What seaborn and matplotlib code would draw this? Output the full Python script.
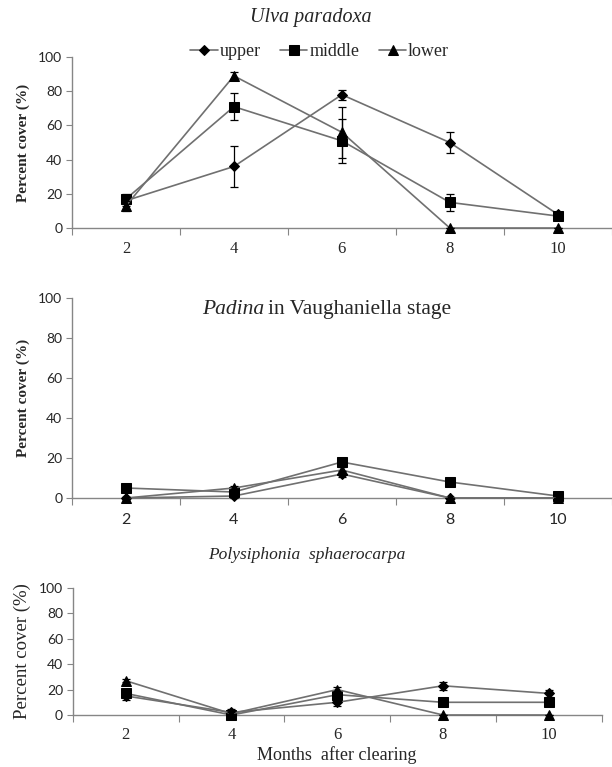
import pandas as pd
import numpy as np
import matplotlib.pyplot as plt
import seaborn as sns

# data
months = ['2', '4', '6', '8', '10']
zones = ['upper', 'middle', 'lower']

ulva_upper = [16, 36, 78, 50, 8]
ulva_middle = [17, 71, 51, 15, 7]
ulva_lower = [13, 89, 56, 0, 0]
ulva_upper_err = [3, 12, 3, 6, 1]
ulva_middle_err = [3, 8, 13, 5, 1.5]
ulva_lower_err = [3, 2, 15, 0, 0]

padina_upper = [0, 1, 12, 0, 0]
padina_middle = [5, 3, 18, 8, 1]
padina_lower = [0, 5, 14, 0, 0]
padina_upper_err = [0.5, 1, 1.5, 0, 0]
padina_middle_err = [1.5, 1, 1.5, 2, 1]
padina_lower_err = [0.5, 1, 1.5, 0, 0]

poly_upper = [15, 2, 10, 23, 17]
poly_middle = [17, 0, 16, 10, 10]
poly_lower = [27, 1, 20, 0, 0]
poly_upper_err = [3, 3, 3, 3, 3]
poly_middle_err = [1.5, 1, 2, 1, 1]
poly_lower_err = [1, 1, 2, 0, 0]

sns.set_style('white')
plt.rcParams['font.family'] = ['Liberation Serif', 'DejaVu Serif']

SERIF = 'Liberation Serif'
SANS = 'Lato'
markers = {'upper': 'D', 'middle': 's', 'lower': '^'}
msizes = {'upper': 5, 'middle': 7, 'lower': 7}
line_col = '#707070'
spine_col = '#868686'


def make_df(up, mid, low):
    rows = []
    for z, vals in zip(zones, [up, mid, low]):
        for i, v in enumerate(vals):
            rows.append({'month': i, 'cover': v, 'zone': z})
    return pd.DataFrame(rows)


def draw_panel(ax, up, mid, low, errs, xfont, xsize, xpad, ylab_weight, ylab_size):
    df = make_df(up, mid, low)
    for z in zones:
        sub = df[df['zone'] == z]
        sns.lineplot(data=sub, x='month', y='cover', ax=ax, color=line_col,
                     lw=1.2, marker=markers[z], markersize=msizes[z],
                     markerfacecolor='black', markeredgecolor='black',
                     sort=False, label=z, legend=False, zorder=3,
                     clip_on=False)
    # error bars
    for z, e, vals in zip(zones, errs, [up, mid, low]):
        eb = ax.errorbar(range(5), vals, yerr=e, fmt='none', ecolor='black',
                         elinewidth=0.9, capsize=3, capthick=0.9, zorder=4)
        for art in eb.lines[1] + eb.lines[2]:
            art.set_clip_on(False)
    ax.set_xlim(-0.5, 4.5)
    ax.set_ylim(0, 100)
    # excel style category axis: ticks between categories
    ax.set_xticks(np.arange(-0.5, 5, 1))
    ax.set_xticklabels([])
    ax.set_xticks(range(5), minor=True)
    ax.set_xticklabels(months, minor=True, fontfamily=xfont, fontsize=xsize)
    ax.tick_params(axis='x', which='major', direction='out', length=5,
                   color=spine_col, bottom=True)
    ax.tick_params(axis='x', which='minor', length=0, pad=xpad)
    ax.set_yticks(range(0, 101, 20))
    ax.set_yticklabels([str(v) for v in range(0, 101, 20)],
                       fontfamily=SANS, fontsize=10)
    ax.tick_params(axis='y', direction='out', length=4, color=spine_col,
                   left=True, pad=3)
    for s in ['top', 'right']:
        ax.spines[s].set_visible(False)
    for s in ['left', 'bottom']:
        ax.spines[s].set_color(spine_col)
        ax.spines[s].set_linewidth(1.0)
    ax.set_xlabel('')
    ax.set_ylabel('Percent cover (%)', fontweight=ylab_weight,
                  fontsize=ylab_size, fontfamily=SERIF, labelpad=6)


fig = plt.figure(figsize=(6.12, 7.67), dpi=100)

# (1) Ulva paradoxa
ax1 = fig.add_axes([0.1176, 0.7027, 0.882, 0.2229])
draw_panel(ax1, ulva_upper, ulva_middle, ulva_lower,
           [ulva_upper_err, ulva_middle_err, ulva_lower_err],
           SERIF, 12, 9, 'bold', 11)
fig.text(0.508, 0.977, 'Ulva paradoxa', style='italic', fontsize=14.5,
         fontfamily=SERIF, ha='center', va='center')
handles, labels = ax1.get_legend_handles_labels()
ax1.legend(handles, labels, loc='center', bbox_to_anchor=(0.459, 1.03),
           ncol=3, frameon=False, prop={'family': SERIF, 'size': 13},
           handlelength=1.5, handletextpad=0.1, columnspacing=1.1,
           borderpad=0)

# (2) Padina
ax2 = fig.add_axes([0.1176, 0.3507, 0.882, 0.2608])
draw_panel(ax2, padina_upper, padina_middle, padina_lower,
           [padina_upper_err, padina_middle_err, padina_lower_err],
           SANS, 11.5, 11, 'bold', 11)
ax2.text(0.357, 0.94, 'Padina', style='italic', transform=ax2.transAxes,
         fontsize=15.5, fontfamily=SERIF, ha='right', va='center')
ax2.text(0.364, 0.94, 'in Vaughaniella stage', transform=ax2.transAxes,
         fontsize=15.5, fontfamily=SERIF, ha='left', va='center')

# (3) Polysiphonia
ax3 = fig.add_axes([0.119, 0.0678, 0.864, 0.1656])
draw_panel(ax3, poly_upper, poly_middle, poly_lower,
           [poly_upper_err, poly_middle_err, poly_lower_err],
           SERIF, 12, 9, 'normal', 13.5)
fig.text(0.502, 0.277, 'Polysiphonia  sphaerocarpa', style='italic',
         fontsize=12.5, fontfamily=SERIF, ha='center', va='center')
ax3.set_xlabel('Months  after clearing', fontsize=13, fontfamily=SERIF,
               labelpad=2)

plt.savefig('out.png', dpi=100)
